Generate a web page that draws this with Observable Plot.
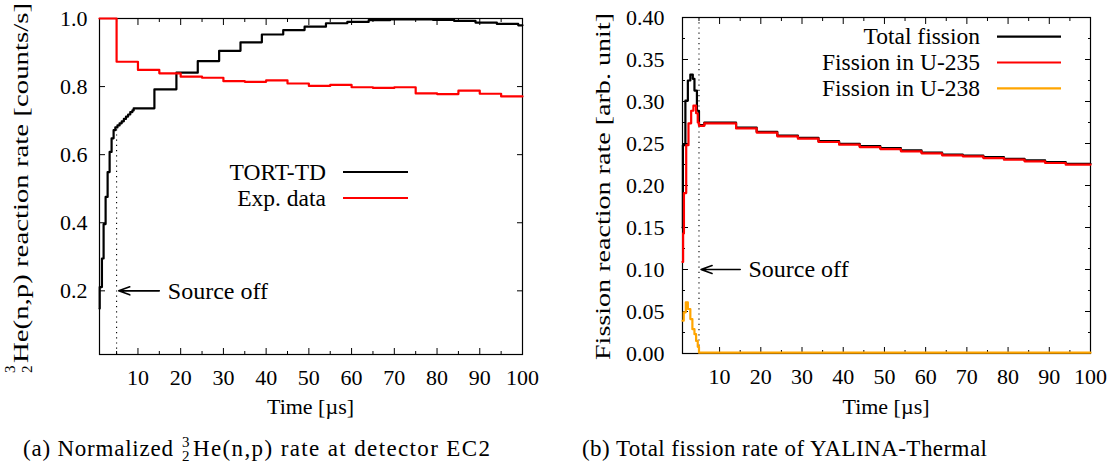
<!DOCTYPE html>
<html><head><meta charset="utf-8">
<script src="https://cdn.jsdelivr.net/npm/d3@7"></script>
<script src="https://cdn.jsdelivr.net/npm/@observablehq/plot@0.6"></script>
<style>
html,body{margin:0;padding:0;background:#fff;}
#page{position:relative;width:1118px;height:470px;overflow:hidden;font-family:"Liberation Serif",serif;}
.panel{position:absolute;top:0;}
#overlay{position:absolute;left:0;top:0;pointer-events:none;font-family:"Liberation Serif",serif;}
</style></head><body>
<div id="page">
<div id="left" class="panel" style="left:0"></div>
<div id="right" class="panel" style="left:559px"></div>
<svg id="overlay" width="1118" height="470"></svg>
</div>
<script>
// ---- data: panel (a) ----
const tortTime = [1, 1.05, 1.57, 1.96, 2.43, 2.9, 3.37, 3.83, 4.3, 4.7, 5.2, 5.7, 6.2, 6.7, 7.2, 7.7, 8.2, 8.7, 9, 13.85, 19, 24, 29, 34, 39, 44, 49, 54, 59, 64, 69, 74, 79, 84, 89, 94, 99, 100];
const tortRate = [0.148, 0.211, 0.295, 0.396, 0.476, 0.549, 0.608, 0.648, 0.672, 0.68, 0.686, 0.692, 0.698, 0.705, 0.712, 0.718, 0.725, 0.73, 0.736, 0.792, 0.841, 0.875, 0.905, 0.93, 0.953, 0.966, 0.976, 0.986, 0.99, 0.995, 0.997, 0.997, 0.996, 0.993, 0.988, 0.984, 0.98, 0.98];
const expTime = [1, 5, 10, 15, 20, 25, 30, 35, 40, 45, 50, 55, 60, 65, 70, 75, 80, 85, 90, 95, 100];
const expRate = [1.0, 0.873, 0.849, 0.839, 0.829, 0.826, 0.816, 0.814, 0.818, 0.809, 0.802, 0.805, 0.798, 0.796, 0.798, 0.78, 0.778, 0.788, 0.779, 0.771, 0.771];
// ---- data: panel (b) ----
const fisTime = [1, 1.1, 1.7, 2.3, 2.9, 3.5, 3.9, 4.5, 5.0, 6.3, 14, 19, 24, 29, 34, 39, 44, 49, 54, 59, 64, 69, 74, 79, 84, 89, 94, 100];
const fisTotal = [0.15, 0.248, 0.301, 0.325, 0.332, 0.327, 0.313, 0.289, 0.272, 0.275, 0.269, 0.264, 0.2595, 0.2567, 0.2528, 0.2496, 0.2468, 0.2444, 0.2417, 0.2393, 0.2369, 0.2357, 0.2337, 0.2317, 0.2298, 0.2278, 0.2258, 0.2258];
const u235Time = [1, 1.15, 1.35, 1.9, 2.45, 3.1, 3.65, 4.3, 4.7, 5.0, 6.3, 14, 19, 24, 29, 34, 39, 44, 49, 54, 59, 64, 69, 74, 79, 84, 89, 94, 100];
const u235Rate = [0.109, 0.143, 0.191, 0.248, 0.274, 0.289, 0.295, 0.286, 0.275, 0.271, 0.274, 0.268, 0.263, 0.2585, 0.2557, 0.2518, 0.2486, 0.2458, 0.2434, 0.2407, 0.2383, 0.2359, 0.2347, 0.2327, 0.2307, 0.2288, 0.2268, 0.2248, 0.2248];
const u238Time = [1, 1.3, 1.8, 2.3, 2.9, 3.4, 3.9, 4.3, 4.7, 5.0, 100];
const u238Rate = [0.039, 0.049, 0.061, 0.053, 0.041, 0.029, 0.023, 0.015, 0.008, 0.001, 0.001];
// ---- ticks ----
const xTicks = [10, 20, 30, 40, 50, 60, 70, 80, 90, 100];
const xMinorTicks = [5, 15, 25, 35, 45, 55, 65, 75, 85, 95];
const leftYTicks = [0.2, 0.4, 0.6, 0.8, 1.0];
const rightYTicks = [0, 0.05, 0.10, 0.15, 0.20, 0.25, 0.30, 0.35, 0.40];
const rightYMinorTicks = [0.025, 0.075, 0.125, 0.175, 0.225, 0.275, 0.325, 0.375];
// ---- annotation ----
const sourceOff = 5;
const arrowFromT = 15, arrowToT = 5.5, labelT = 17;
const leftArrowY = 0.2, rightArrowY = 0.1;
const leftDottedTop = 0.675;
const xDomain = [1, 100];
const leftYDomain = [0.013, 1.0];
const rightYDomain = [0, 0.40];

const rows = (ts, vs) => ts.map((t, i) => ({t, v: vs[i]}));
const FONT = "Liberation Serif";

function tickMarks(xMaj, xMin, yMaj, yMin) {
  const c = {fill: "none", label: null, stroke: "black", strokeWidth: 1};
  const out = [
    Plot.axisX({...c, anchor: "bottom", ticks: xMaj, tickSize: 6, dy: -6}),
    Plot.axisX({...c, anchor: "top", ticks: xMaj, tickSize: 6, dy: 6}),
    Plot.axisX({...c, anchor: "bottom", ticks: xMin, tickSize: 3, dy: -3}),
    Plot.axisX({...c, anchor: "top", ticks: xMin, tickSize: 3, dy: 3}),
    Plot.axisY({...c, anchor: "left", ticks: yMaj, tickSize: 6, dx: 6}),
    Plot.axisY({...c, anchor: "right", ticks: yMaj, tickSize: 6, dx: -6})
  ];
  if (yMin) out.push(
    Plot.axisY({...c, anchor: "left", ticks: yMin, tickSize: 3, dx: 3}),
    Plot.axisY({...c, anchor: "right", ticks: yMin, tickSize: 3, dx: -3})
  );
  return out;
}

const common = {
  width: 559, height: 425,
  style: {fontFamily: FONT, fontSize: "22px", color: "black", background: "white", overflow: "visible"}
};

const left = Plot.plot({
  ...common,
  marginLeft: 99, marginRight: 37, marginTop: 18, marginBottom: 71,
  x: {domain: xDomain, label: null},
  y: {domain: leftYDomain, label: null},
  marks: [
    Plot.frame({stroke: "black", strokeWidth: 1.2}),
    ...tickMarks(xTicks, xMinorTicks, leftYTicks, null),
    Plot.axisX({ticks: xTicks, tickSize: 0, tickPadding: 15, label: null, fontSize: 22}),
    Plot.axisY({ticks: leftYTicks, tickSize: 0, tickPadding: 12, label: null, fontSize: 22, tickFormat: d3.format(".1f")}),
    Plot.ruleX([{t: sourceOff, y1: leftYDomain[0], y2: leftDottedTop}], {x: "t", y1: "y1", y2: "y2", stroke: "black", strokeWidth: 1.1, strokeDasharray: "1.2,4"}),
    Plot.line(rows(tortTime, tortRate), {x: "t", y: "v", curve: "step-after", stroke: "black", strokeWidth: 2.2}),
    Plot.line(rows(expTime, expRate), {x: "t", y: "v", curve: "step-after", stroke: "#ff0000", strokeWidth: 2.2}),
    Plot.arrow([{x1: arrowFromT, x2: arrowToT, y: leftArrowY}], {x1: "x1", x2: "x2", y1: "y", y2: "y", stroke: "black", strokeWidth: 1.6, headLength: 11, headAngle: 40}),
    Plot.text([{t: labelT, y: leftArrowY, s: "Source off"}], {x: "t", y: "y", text: "s", textAnchor: "start", fontSize: 24, fill: "black"})
  ]
});
document.getElementById("left").appendChild(left);

const right = Plot.plot({
  ...common,
  marginLeft: 123, marginRight: 28, marginTop: 17, marginBottom: 72,
  x: {domain: xDomain, label: null},
  y: {domain: rightYDomain, label: null},
  marks: [
    Plot.frame({stroke: "black", strokeWidth: 1.2}),
    ...tickMarks(xTicks, xMinorTicks, rightYTicks, rightYMinorTicks),
    Plot.axisX({ticks: xTicks, tickSize: 0, tickPadding: 15, label: null, fontSize: 22}),
    Plot.axisY({ticks: rightYTicks, tickSize: 0, tickPadding: 18, label: null, fontSize: 22, tickFormat: d3.format(".2f")}),
    Plot.ruleX([sourceOff], {stroke: "black", strokeWidth: 1.1, strokeDasharray: "1.2,4"}),
    Plot.line(rows(fisTime, fisTotal), {x: "t", y: "v", curve: "step-after", stroke: "black", strokeWidth: 2.2}),
    Plot.line(rows(u235Time, u235Rate), {x: "t", y: "v", curve: "step-after", stroke: "#ff0000", strokeWidth: 2.2}),
    Plot.line(rows(u238Time, u238Rate), {x: "t", y: "v", curve: "step-after", stroke: "#ffa500", strokeWidth: 2.2}),
    Plot.arrow([{x1: arrowFromT, x2: arrowToT, y: rightArrowY}], {x1: "x1", x2: "x2", y1: "y", y2: "y", stroke: "black", strokeWidth: 1.6, headLength: 11, headAngle: 40}),
    Plot.text([{t: labelT, y: rightArrowY, s: "Source off"}], {x: "t", y: "y", text: "s", textAnchor: "start", fontSize: 24, fill: "black"})
  ]
});
document.getElementById("right").appendChild(right);

// ---- overlay text: axis titles, legends, captions ----
const ov = d3.select("#overlay");
const T = (sel) => sel.attr("font-family", "Liberation Serif, serif").attr("fill", "black");
// left y label
const gl = ov.append("g").attr("transform", "translate(28,373) rotate(-90)");
T(gl.append("text")).attr("x", 0).attr("y", -13).attr("font-size", 15).text("3");
T(gl.append("text")).attr("x", 0).attr("y", 4).attr("font-size", 15).text("2");
T(gl.append("text")).attr("x", 10).attr("y", 0).attr("font-size", 22)
  .attr("textLength", 360).attr("lengthAdjust", "spacingAndGlyphs")
  .text("He(n,p) reaction rate [counts/s]");
// right y label
T(ov.append("text")).attr("transform", "translate(610,360) rotate(-90)").attr("font-size", 22)
  .attr("textLength", 347).attr("lengthAdjust", "spacingAndGlyphs")
  .text("Fission reaction rate [arb. unit]");
// x labels
T(ov.append("text")).attr("x", 310.5).attr("y", 414).attr("text-anchor", "middle").attr("font-size", 22).text("Time [µs]");
T(ov.append("text")).attr("x", 886).attr("y", 414).attr("text-anchor", "middle").attr("font-size", 22).text("Time [µs]");
// legends
const legendA = [{name: "TORT-TD", color: "black"}, {name: "Exp. data", color: "#ff0000"}];
legendA.forEach((d, i) => {
  const y = 172 + i * 26;
  T(ov.append("text")).attr("x", 326).attr("y", y).attr("dy", "0.33em").attr("text-anchor", "end").attr("font-size", 23.5).text(d.name);
  ov.append("line").attr("x1", 343).attr("x2", 408).attr("y1", y).attr("y2", y).attr("stroke", d.color).attr("stroke-width", 2.2);
});
const legendB = [{name: "Total fission", color: "black"}, {name: "Fission in U-235", color: "#ff0000"}, {name: "Fission in U-238", color: "#ffa500"}];
legendB.forEach((d, i) => {
  const y = 36.7 + i * 25.8;
  T(ov.append("text")).attr("x", 980).attr("y", y).attr("dy", "0.33em").attr("text-anchor", "end").attr("font-size", 23.5).text(d.name);
  ov.append("line").attr("x1", 997).attr("x2", 1061).attr("y1", y).attr("y2", y).attr("stroke", d.color).attr("stroke-width", 2.2);
});
// captions
const capY = 456;
T(ov.append("text")).attr("x", 23).attr("y", capY).attr("font-size", 23)
  .attr("textLength", 150).attr("lengthAdjust", "spacing").text("(a) Normalized");
T(ov.append("text")).attr("x", 182).attr("y", capY - 9).attr("font-size", 15).text("3");
T(ov.append("text")).attr("x", 182).attr("y", capY + 5).attr("font-size", 15).text("2");
T(ov.append("text")).attr("x", 193).attr("y", capY).attr("font-size", 23)
  .attr("textLength", 297).attr("lengthAdjust", "spacing").text("He(n,p) rate at detector EC2");
T(ov.append("text")).attr("x", 582).attr("y", capY).attr("font-size", 23)
  .attr("textLength", 405).attr("lengthAdjust", "spacing").text("(b) Total fission rate of YALINA-Thermal");
</script>
</body></html>
